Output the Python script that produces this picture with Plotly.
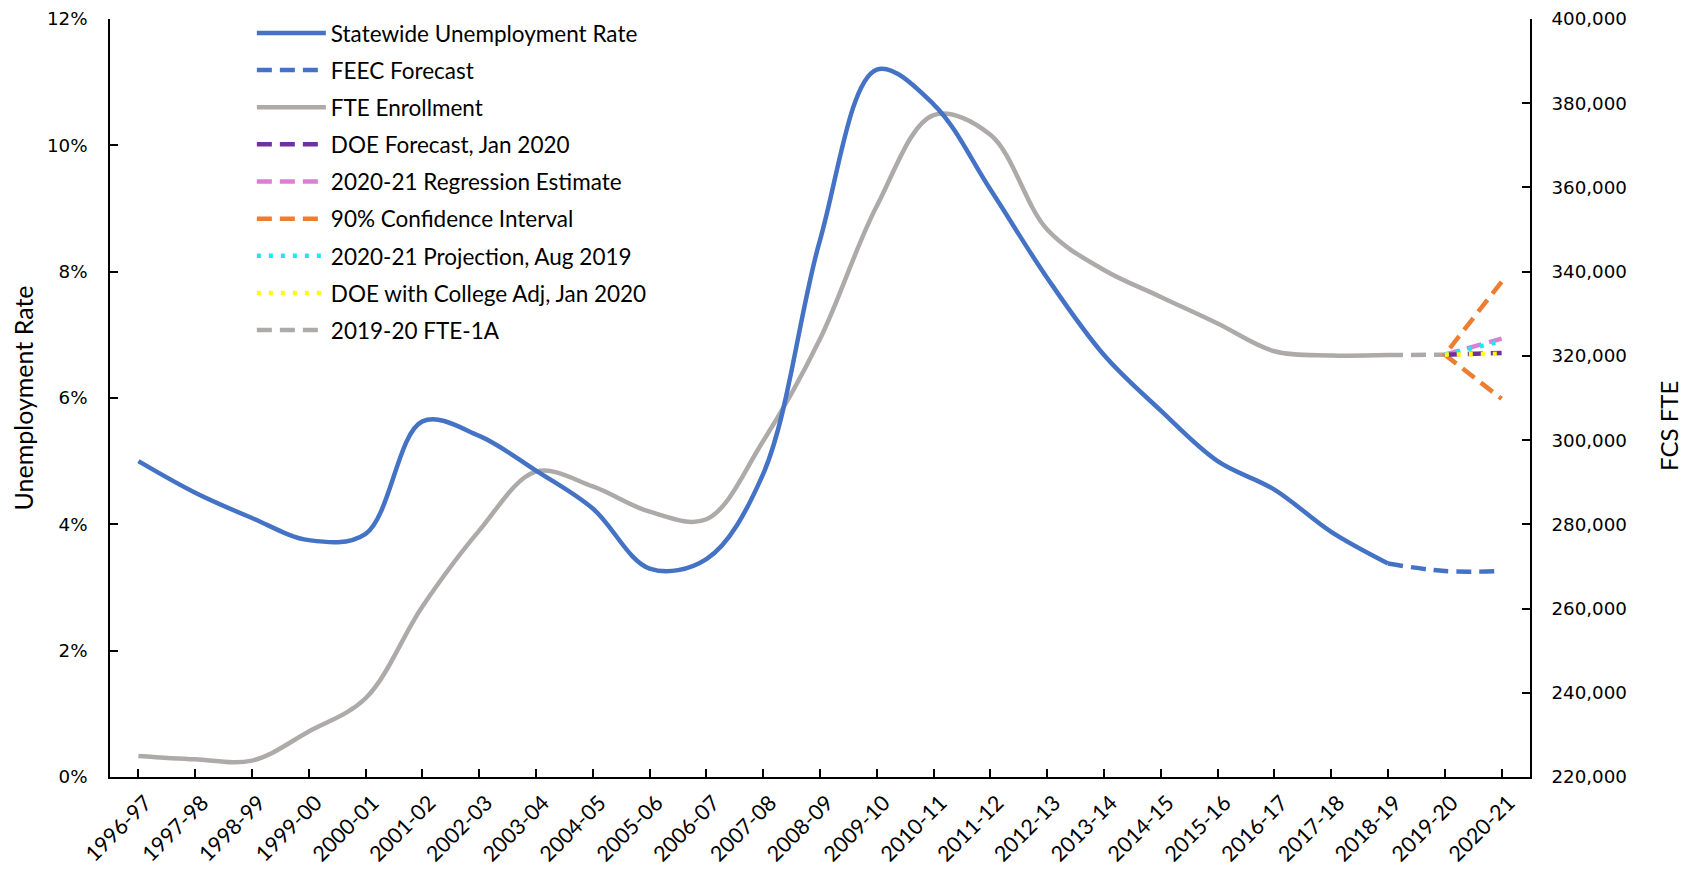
import plotly.graph_objects as go

years = ["1996-97", "1997-98", "1998-99", "1999-00", "2000-01", "2001-02", "2002-03",
         "2003-04", "2004-05", "2005-06", "2006-07", "2007-08", "2008-09", "2009-10",
         "2010-11", "2011-12", "2012-13", "2013-14", "2014-15", "2015-16", "2016-17",
         "2017-18", "2018-19", "2019-20", "2020-21"]

# Statewide unemployment rate (fraction), 1996-97 .. 2018-19
unemp = [0.050, 0.045, 0.041, 0.0375, 0.0385, 0.0563, 0.054, 0.0485, 0.0425, 0.033,
         0.0345, 0.048, 0.085, 0.112, 0.1065, 0.093, 0.079, 0.0668, 0.058, 0.050,
         0.0455, 0.0388, 0.0338]
# FEEC forecast, 2018-19 .. 2020-21
feec = [0.0338, 0.0326, 0.0326]

# FTE enrollment, 1996-97 .. 2018-19
fte = [225000, 224200, 223900, 230800, 238700, 260500, 278500, 292500, 289000, 283000,
       281200, 299800, 324000, 355600, 377200, 372500, 350000, 340400, 334000, 327700,
       321100, 320100, 320200]
# 2019-20 FTE-1A, 2018-19 .. 2019-20
fte_1a = [320200, 320300]
# 2019-20 .. 2020-21 forecasts
doe_forecast = [320300, 320700]
regression_est = [320300, 324100]
ci_upper = [320300, 337600]
ci_lower = [320300, 309800]
projection_aug2019 = [320300, 323500]
doe_college_adj = [320300, 320500]

BLUE = "#4472C4"
GRAY = "#AEAAAA"
PURPLE = "#7030A0"
PINK = "#DA7FD4"
ORANGE = "#ED7D31"
CYAN = "#22E3F2"
YELLOW = "#FFFF00"
LW = 4.5
DASH = "15px,8px"
DOT = "4px,8px"

fig = go.Figure()


def add(x, y, name, color, dash, axis, rank, spline=False):
    fig.add_trace(go.Scatter(
        x=x, y=y, name=name, mode="lines",
        line=dict(color=color, width=LW, dash=dash, shape="spline" if spline else "linear"),
        yaxis=axis, legendrank=rank, legendgroup=name))


# FTE (primary axis, right side)
add(years[:23], fte, "FTE Enrollment", GRAY, "solid", "y", 3, spline=True)
add(years[22:24], fte_1a, "2019-20 FTE-1A", GRAY, DASH, "y", 9)
add([years[24], years[23], years[24]], [ci_upper[1], ci_upper[0], ci_lower[1]],
    "90% Confidence Interval", ORANGE, DASH, "y", 6)
add(years[23:25], regression_est, "2020-21 Regression Estimate", PINK, DASH, "y", 5)
add(years[23:25], doe_forecast, "DOE Forecast, Jan 2020", PURPLE, DASH, "y", 4)
add(years[23:25], projection_aug2019, "2020-21 Projection, Aug 2019", CYAN, DOT, "y", 7)
add(years[23:25], doe_college_adj, "DOE with College Adj, Jan 2020", YELLOW, DOT, "y", 8)
# Unemployment (overlay axis, left side)
add(years[:23], unemp, "Statewide Unemployment Rate", BLUE, "solid", "y2", 1, spline=True)
add(years[22:25], feec, "FEEC Forecast", BLUE, DASH, "y2", 2, spline=True)

tickfont = dict(family="DejaVu Sans", size=18.3, color="black")
titlefont = dict(family="Lato", size=25, color="black")
common = dict(ticks="inside", ticklen=8, tickwidth=1.5, tickcolor="black",
              showline=True, linewidth=1.5, linecolor="black",
              showgrid=False, zeroline=False, automargin=False)

# the page body adds an 8px offset, so the figure is 8px smaller than the window
fig.update_layout(
    width=1688, height=861,
    margin=dict(l=102, r=166, t=3.5, b=92),
    paper_bgcolor="white", plot_bgcolor="white",
    showlegend=True,
    legend=dict(x=0.0999, y=1.0095, xanchor="left", yanchor="top",
                font=dict(family="Lato", size=22.5, color="black"),
                bgcolor="rgba(0,0,0,0)", itemwidth=69, tracegroupgap=4.9,
                traceorder="grouped"),
    xaxis=dict(type="category", range=[-0.5, 24.5], tickangle=-45,
               tickfont=dict(family="Lato", size=21.5, color="black"),
               ticklabelstandoff=3, ticklabelshift=7, **common),
    yaxis=dict(side="right", range=[220000, 400000], dtick=20000, tickformat=",",
               tickfont=tickfont, ticklabelstandoff=16, **common),
    yaxis2=dict(side="left", overlaying="y", range=[0, 0.12], dtick=0.02, tickformat=".0%",
                tickfont=tickfont, ticklabelstandoff=17,
                title=dict(text="Unemployment Rate", font=titlefont, standoff=6), **common),
    annotations=[dict(text="FCS FTE", xref="paper", yref="paper", x=1.0974, y=0.4636,
                      xanchor="center", yanchor="middle", textangle=-90, showarrow=False,
                      font=dict(family="Lato", size=24, color="black"))],
)

fig.write_html("out.html")
